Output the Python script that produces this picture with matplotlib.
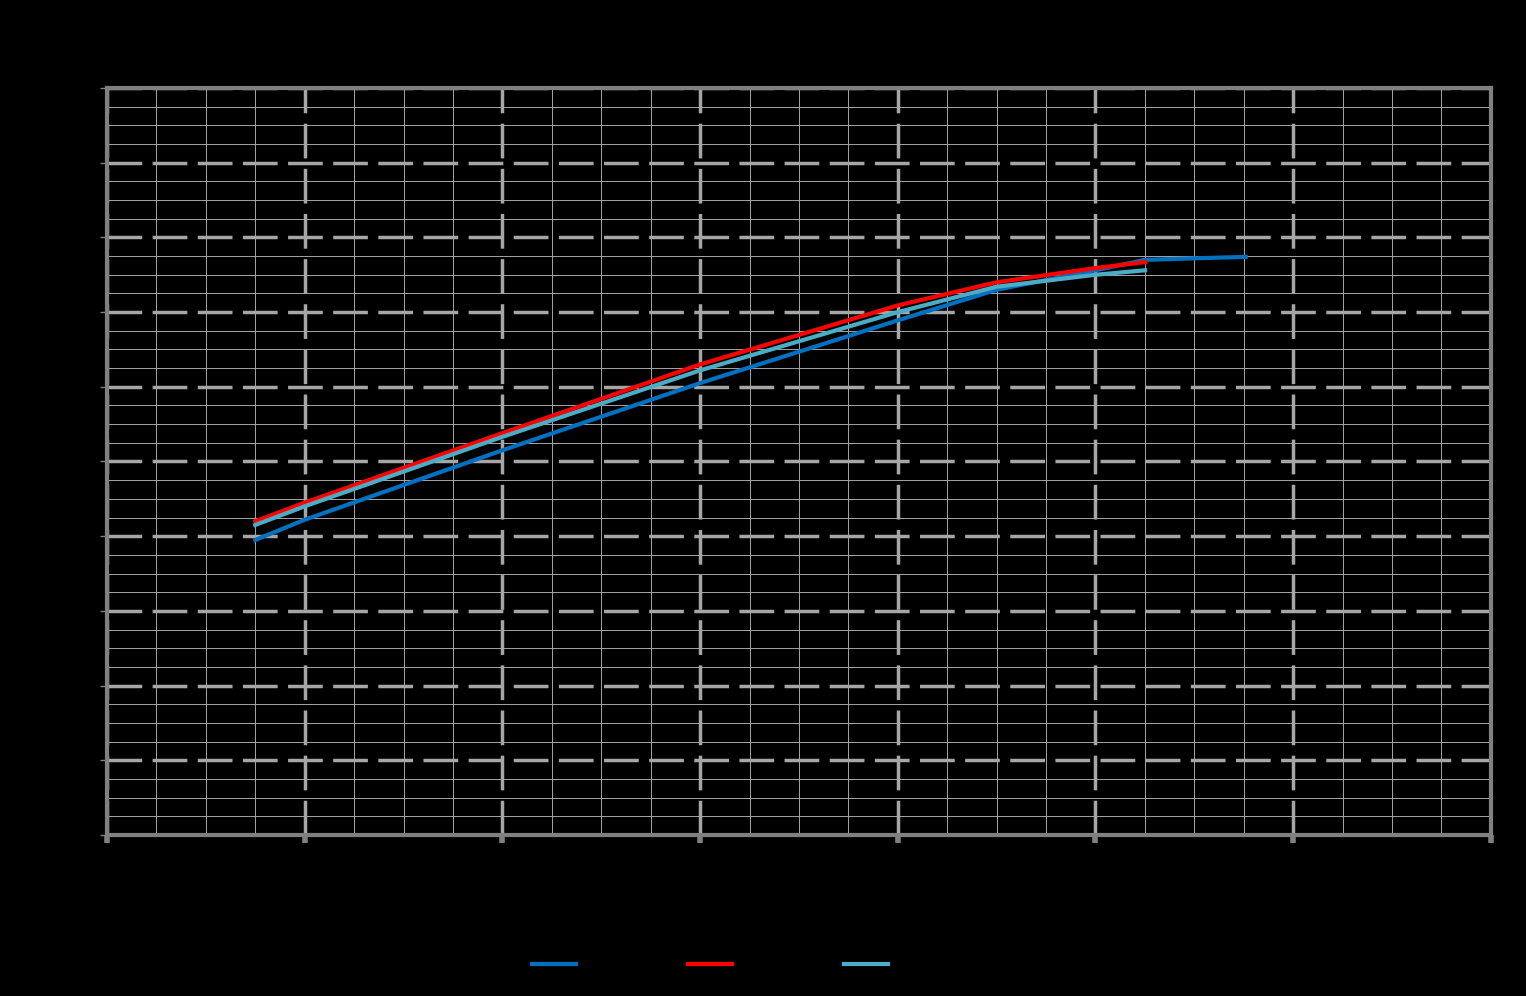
import matplotlib.pyplot as plt
from matplotlib.ticker import MultipleLocator

# data (axis units: major grid = 1)
x_a = [0.75, 1.0, 2.0, 3.0, 4.0, 4.5, 5.0, 5.25, 5.5, 5.76]
y_a = [3.95, 4.22, 5.15, 6.05, 6.89, 7.30, 7.56, 7.70, 7.72, 7.74]
x_b = [0.75, 1.0, 2.0, 3.0, 4.0, 4.5, 5.0, 5.25]
y_b = [4.20, 4.45, 5.38, 6.30, 7.09, 7.40, 7.59, 7.67]
x_c = [0.75, 1.0, 2.0, 3.0, 4.0, 4.5, 5.0, 5.25]
y_c = [4.15, 4.40, 5.33, 6.22, 7.00, 7.34, 7.50, 7.56]
labels = ['Series 1', 'Series 2', 'Series 3']

fig = plt.figure(figsize=(15.26, 9.96), dpi=100)
fig.patch.set_facecolor('black')
ax = fig.add_axes([0.0701, 0.1617, 0.9069, 0.7499])
ax.set_facecolor('black')

ax.set_xlim(0, 7)
ax.set_ylim(0, 10)
ax.xaxis.set_major_locator(MultipleLocator(1))
ax.xaxis.set_minor_locator(MultipleLocator(0.25))
ax.yaxis.set_major_locator(MultipleLocator(1))
ax.yaxis.set_minor_locator(MultipleLocator(0.25))

ax.grid(which='minor', color='#a6a6a6', lw=0.7)
ax.grid(which='major', color='#a6a6a6', lw=2.5, ls=(0, (10, 3)))
ax.set_axisbelow(True)
for s in ax.spines.values():
    s.set_color('#808080')
    s.set_linewidth(3)
ax.tick_params(which='both', colors='#808080', labelcolor='black', labelsize=12)
ax.tick_params(axis='x', which='major', length=6, width=4)
ax.tick_params(which='minor', length=0)
ax.tick_params(axis='y', which='major', width=1, length=5)

ax.plot(x_a, y_a, color='#0070c0', lw=3, label=labels[0])
ax.plot(x_b, y_b, color='#ff0000', lw=3, label=labels[1])
ax.plot(x_c, y_c, color='#4bacc6', lw=3, label=labels[2])

ax.set_xlabel('x', color='black', fontsize=13)
ax.set_ylabel('y', color='black', fontsize=13)

leg = fig.legend(loc='center', ncol=3, bbox_to_anchor=(0.49, 0.031), frameon=False,
                 fontsize=12, handlelength=2.65, handletextpad=0.5, columnspacing=2.2)
for t in leg.get_texts():
    t.set_color('black')

fig.savefig('out.png', dpi=100, facecolor='black')
